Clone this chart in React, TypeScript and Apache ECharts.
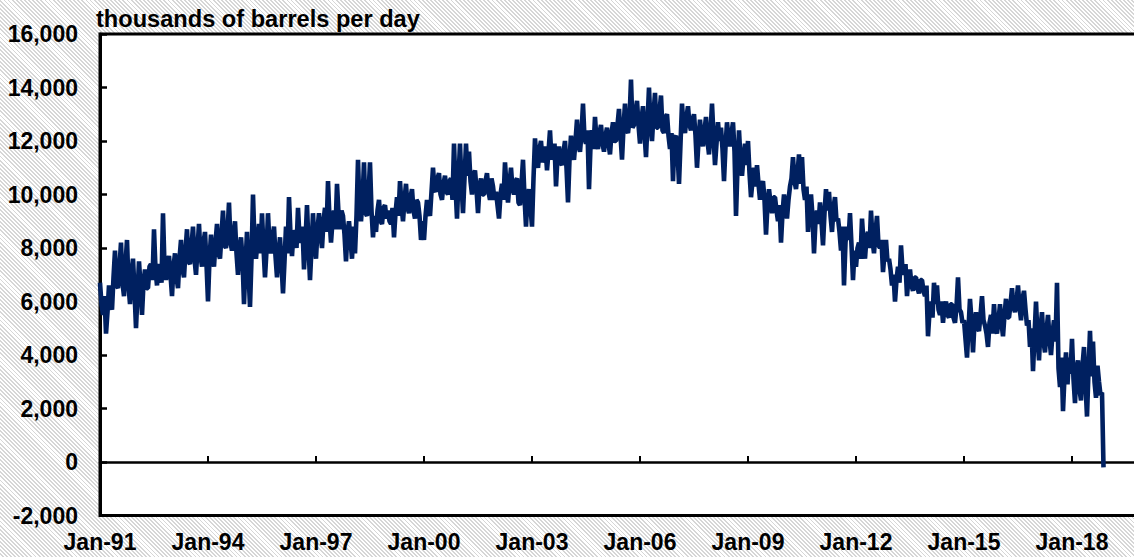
import React, { useEffect, useRef } from 'react';
import * as echarts from 'echarts';

// Semi-monthly values (thousands of barrels per day), two per month, Jan 1991 onward
const v1991 = [6700,5900, 5500,6200, 4800,5600, 6600,5900, 5700,6900, 7900,6600, 6500,7300, 8200,6700, 6200,7400, 8300,6600, 5900,7100, 7600,6400];
const v1992 = [5000,6300, 7500,6600, 5500,6700, 7200,6500, 6500,7300, 7400,6800, 8700,7200, 6600,7400, 7200,6700, 9300,7300, 6800,7500, 7700,7000];
const v1993 = [6200,7300, 7800,6900, 6500,7600, 8300,7200, 6900,7900, 8700,7500, 7400,8100, 8800,7600, 7000,8000, 8900,7700, 7300,8200, 8600,7400];
const v1994 = [6000,7600, 8500,7700, 7300,8200, 8900,7800, 7600,8500, 9400,8100, 8000,8600, 9700,8200, 7900,8500, 9000,7800, 7000,8000, 8400,7600];
const v1995 = [5900,7400, 8600,7100, 5800,7600, 10000,8200, 7600,8300, 8900,7800, 9300,8000, 6900,7900, 9300,8100, 7800,8400, 8800,7700, 6900,7800];
const v1996 = [8400,7400, 6300,7500, 8800,7800, 9900,8500, 7700,8600, 8600,8000, 9500,8400, 8200,8800, 7200,8300, 9600,8100, 6800,8000, 9300,8200];
const v1997 = [7600,8700, 9300,8500, 8000,9000, 9500,8600, 10500,9100, 8200,9000, 9400,8700, 10400,9300, 8700,9400, 9200,8500, 7500,8600, 9000,8300];
const v1998 = [7600,8800, 7800,9200, 11300,9500, 9000,9800, 11200,9300, 9200,10000, 11200,9400, 8400,9200, 8600,9400, 9800,9000, 8900,9500, 9600,9100];
const v1999 = [9400,9000, 8900,9500, 8400,9300, 9900,9200, 10500,9600, 9000,9800, 10400,9500, 9300,9900, 10200,9400, 9100,9800, 9700,9200, 8300,9000];
const v2000 = [8300,9200, 9800,9400, 9200,10100, 11000,10200, 10100,10600, 10800,10000, 9800,10400, 10700,10100, 10000,10500, 10600,9800, 11900,10300, 9100,10600];
const v2001 = [11900,10400, 9300,10600, 11900,10700, 11600,10500, 10000,10700, 10900,10200, 9300,10300, 10600,10000, 10000,10500, 10800,10100, 9800,10600, 10300,9800];
const v2002 = [10100,9600, 9100,10000, 10400,9800, 11200,10300, 9700,10400, 11000,10200, 10000,10500, 10600,9700, 9600,10400, 11300,9900, 8800,9900, 10200,9500];
const v2003 = [8800,10600, 12100,11300, 11000,11700, 12000,11200, 11400,11800, 10900,11600, 12400,11300, 11500,11900, 10300,11400, 11800,11200, 11100,11600, 12000,11000];
const v2004 = [9700,11300, 12200,11600, 11300,12000, 12800,11800, 11600,12300, 13400,12100, 11900,12400, 10200,11800, 12400,11700, 12900,12000, 11700,12300, 12600,11900];
const v2005 = [11600,12200, 12500,11900, 11500,12300, 12700,12000, 12000,12600, 13200,12200, 11300,12500, 13400,12400, 12300,12800, 14300,12500, 12600,13100, 13500,12600];
const v2006 = [11900,12800, 13300,12300, 11400,12700, 14000,12600, 12000,13000, 13800,12500, 12500,13100, 13700,12400, 12300,12900, 13000,12200, 11700,12300, 10500,12100];
const v2007 = [12200,11600, 10400,11900, 13400,12500, 12300,12900, 13300,12600, 12400,12800, 13000,12200, 11000,12000, 12800,12100, 11800,12400, 12900,12000, 11500,12300];
const v2008 = [13400,12200, 11100,11900, 12700,12000, 12500,11700, 10500,11800, 12700,12100, 11800,12300, 12700,11600, 9200,11000, 12400,11300, 10700,11400, 11900,11100];
const v2009 = [12000,10800, 9900,10500, 11000,10300, 11100,10400, 9800,10300, 10500,9800, 8500,9600, 10200,9700, 9300,9900, 9900,9400, 9000,9600, 8200,9300];
const v2010 = [10000,9600, 9100,9800, 10300,10600, 11400,10500, 10200,10800, 11500,10400, 11400,10200, 9800,10300, 8600,9500, 10000,9200, 7800,9000, 9400,8900];
const v2011 = [9700,9000, 8100,9300, 10200,9400, 10100,9200, 8600,9500, 9900,9000, 9100,8600, 7900,8800, 6600,8200, 8800,8300, 9300,8100, 6800,7900];
const v2012 = [7300,8000, 8200,7600, 9100,8200, 7600,8400, 8600,8000, 9400,8300, 7800,8600, 9200,8100, 8000,8300, 7100,7800, 8300,7500, 7600,7200];
const v2013 = [6600,7000, 6000,6800, 7300,6700, 8100,7200, 7000,7400, 6200,6900, 7200,6600, 6400,6900, 6900,6500, 6300,6800, 6800,6400, 6200,6600];
const v2014 = [4700,5600, 6000,5400, 6700,5900, 6600,5700, 5500,6000, 5200,5800, 6000,5500, 5400,5900, 5900,5400, 5200,5800, 6900,5700, 5600,5200];
const v2015 = [5300,4600, 3900,5000, 6100,5300, 4100,5200, 5600,5000, 4900,5500, 6200,5300, 5100,4800, 4300,5200, 5500,4800, 5900,5000, 4800,5300];
const v2016 = [5900,5200, 4700,5500, 6100,5400, 5400,5900, 6500,5800, 5600,6000, 6600,5800, 5300,6100, 6400,5700, 5100,5300, 4300,5000, 3400,4700];
const v2017 = [6000,4700, 3800,5000, 5600,4500, 4100,4900, 5500,4600, 4000,4800, 5300,4500, 6700,3500, 2800,3900, 1900,3200, 4100,2900, 3900,3300];
const v2018 = [4600,3100, 2200,3500, 3800,2700, 2300,3600, 4300,2900, 1700,3400, 4900,3200, 4500,3000, 2400,3600, 3000,2500, 2600,-200];

const years = [
  v1991, v1992, v1993, v1994, v1995, v1996, v1997, v1998, v1999, v2000,
  v2001, v2002, v2003, v2004, v2005, v2006, v2007, v2008, v2009, v2010,
  v2011, v2012, v2013, v2014, v2015, v2016, v2017, v2018,
];

const START_YY = 91; // two-digit start year
const X_TICK_MONTHS = 36; // a tick every 3 years
const X_MAX_MONTHS = 346;
const Y_MIN = -2000;
const Y_MAX = 16000;
const Y_STEP = 2000;
const TITLE = 'thousands of barrels per day';

const FONT = '"Liberation Sans", Arial, Helvetica, sans-serif';
const CHART_W = 1150;

export default function App() {
  const ref = useRef<HTMLDivElement>(null);

  useEffect(() => {
    document.body.style.margin = '0';
    document.body.style.overflow = 'hidden';
    const chart = echarts.init(ref.current as HTMLDivElement, null, { renderer: 'svg' });
    const data: [number, number][] = [];
    years.forEach((arr, yi) => {
      arr.forEach((v, k) => data.push([yi * 12 + k * 0.5, v]));
    });

    const xLabel = (v: number) => {
      if (v % X_TICK_MONTHS !== 0) return '';
      const yy = (START_YY + v / 12) % 100;
      return 'Jan-' + String(yy).padStart(2, '0');
    };

    chart.setOption({
      animation: false,
      title: {
        text: TITLE,
        left: 91,
        top: 2,
        textStyle: { fontSize: 23.6, fontWeight: 'bold', color: '#000', fontFamily: FONT },
      },
      grid: {
        left: 100,
        top: 34,
        right: CHART_W - 100 - 3 * X_MAX_MONTHS,
        bottom: 41.5,
        show: true,
        backgroundColor: '#ffffff',
        borderColor: '#000',
        borderWidth: 3,
        containLabel: false,
      },
      xAxis: [
        {
          type: 'value',
          min: 0,
          max: X_MAX_MONTHS,
          interval: X_TICK_MONTHS,
          position: 'bottom',
          axisLine: { show: true, onZero: true, lineStyle: { color: '#000', width: 2.5 } },
          axisTick: { show: true, inside: true, length: 6, lineStyle: { color: '#000', width: 2 } },
          axisLabel: { show: false },
          splitLine: { show: false },
        },
        {
          type: 'value',
          min: 0,
          max: X_MAX_MONTHS,
          interval: X_TICK_MONTHS,
          position: 'bottom',
          axisLine: { show: false, onZero: false },
          axisTick: { show: false },
          axisLabel: {
            show: true,
            margin: 15,
            formatter: xLabel,
            fontSize: 23,
            fontWeight: 'bold',
            color: '#000',
            fontFamily: FONT,
          },
          splitLine: { show: false },
        },
      ],
      yAxis: {
        type: 'value',
        min: Y_MIN,
        max: Y_MAX,
        interval: Y_STEP,
        axisLine: { show: true, lineStyle: { color: '#000', width: 3 } },
        axisTick: { show: true, inside: true, length: 7, lineStyle: { color: '#000', width: 2.5 } },
        axisLabel: {
          margin: 22,
          formatter: (v: number) => v.toLocaleString('en-US'),
          fontSize: 23,
          fontWeight: 'bold',
          color: '#000',
          fontFamily: FONT,
        },
        splitLine: { show: false },
      },
      series: [
        {
          type: 'line',
          xAxisIndex: 0,
          data,
          showSymbol: false,
          symbol: 'none',
          lineStyle: { color: '#002060', width: 4.6 },
          z: 3,
        },
      ],
    });

    return () => chart.dispose();
  }, []);

  return (
    <div
      style={{
        position: 'absolute',
        left: 0,
        top: 0,
        width: 1134,
        height: 557,
        overflow: 'hidden',
        background:
          'repeating-linear-gradient(45deg, #ffffff 0px, #ffffff 1.6px, #d6d6d6 1.6px, #d6d6d6 2.9px)',
      }}
    >
      <div ref={ref} style={{ width: CHART_W, height: 557 }} />
    </div>
  );
}
